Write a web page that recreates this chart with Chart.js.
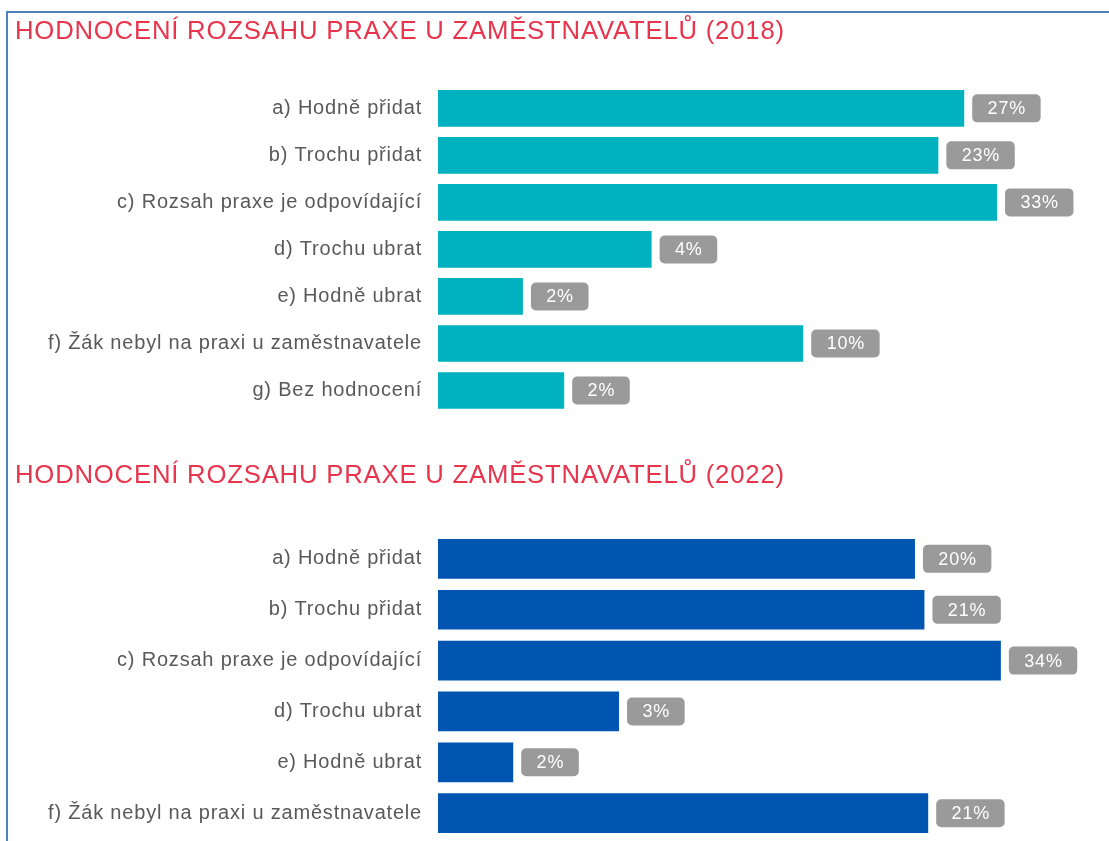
<!DOCTYPE html>
<html lang="cs">
<head>
<meta charset="utf-8">
<title>Hodnocení rozsahu praxe u zaměstnavatelů</title>
<script src="https://cdn.jsdelivr.net/npm/chart.js@4"></script>
<style>
  html, body { margin: 0; padding: 0; background: #fff; overflow: hidden; }
  body { width: 1109px; height: 841px; position: relative; }
  .frame {
    position: absolute; left: 6px; top: 11px; width: 1200px; height: 900px;
    border-top: 2px solid #4f81bd; border-left: 2px solid #4f81bd;
  }
  canvas { position: absolute; left: 0; }
  #chart2018 { top: 0; }
  #chart2022 { top: 424px; }
</style>
</head>
<body>
<div class="frame"></div>
<canvas id="chart2018" width="1109" height="424"></canvas>
<canvas id="chart2022" width="1109" height="417"></canvas>
<script>
// categories
const categories2018 = [
    "a) Hodně přidat",
    "b) Trochu přidat",
    "c) Rozsah praxe je odpovídající",
    "d) Trochu ubrat",
    "e) Hodně ubrat",
    "f) Žák nebyl na praxi u zaměstnavatele",
    "g) Bez hodnocení",
];
const categories2022 = categories2018.slice(0, 6);

const values2018 = [26.8, 22.8, 32.9, 3.8, 1.7, 9.8, 2.2];
const values2022 = [19.7, 20.9, 33.7, 3.1, 1.6, 21.4];

const titles = [
    "HODNOCENÍ ROZSAHU PRAXE U ZAMĚSTNAVATELŮ (2018)",
    "HODNOCENÍ ROZSAHU PRAXE U ZAMĚSTNAVATELŮ (2022)",
];

Chart.defaults.font.family = '"Liberation Sans", Arial, sans-serif';

// the original text is set a little wider than Liberation Sans
const wideText = {
    id: "wideText",
    beforeDraw(chart) {
        chart.ctx.letterSpacing = "0.8px";
    },
};

// grey rounded boxes with the rounded percentage next to each bar
const valueBoxes = {
    id: "valueBoxes",
    afterDatasetsDraw(chart) {
        const ctx = chart.ctx;
        const meta = chart.getDatasetMeta(0);
        const data = chart.data.datasets[0].data;
        ctx.save();
        ctx.font = '18px "Liberation Sans", Arial, sans-serif';
        ctx.textAlign = "center";
        ctx.textBaseline = "middle";
        meta.data.forEach(function (bar, i) {
            const text = Math.round(data[i]) + "%";
            const w = ctx.measureText(text).width + 30;
            const h = 28;
            const x = bar.x + 8;
            ctx.fillStyle = "#9a9a9a";
            ctx.beginPath();
            ctx.roundRect(x, bar.y - h / 2, w, h, 5);
            ctx.fill();
            ctx.fillStyle = "#ffffff";
            ctx.fillText(text, x + w / 2 + 0.4, bar.y + 1);
        });
        ctx.restore();
    },
};

function makeChart(id, title, labels, values, color, pad) {
    const ctx = document.getElementById(id).getContext("2d");
    return new Chart(ctx, {
        type: "bar",
        data: {
            labels: labels,
            datasets: [
                {
                    data: values,
                    backgroundColor: color,
                    borderWidth: 0,
                    categoryPercentage: 1,
                    barPercentage: 0.78,
                },
            ],
        },
        options: {
            indexAxis: "y",
            responsive: false,
            animation: false,
            layout: { padding: { left: 15, right: 45, top: 0, bottom: pad.bottom } },
            plugins: {
                legend: { display: false },
                tooltip: { enabled: false },
                title: {
                    display: true,
                    text: title,
                    align: "start",
                    color: "#e6354d",
                    font: { size: 25.7, weight: "normal" },
                    padding: { top: pad.titleTop, bottom: pad.titleBottom },
                },
            },
            scales: {
                x: { type: "logarithmic", min: 1, max: 50, display: false },
                y: {
                    grid: { display: false },
                    border: { display: false },
                    ticks: { color: "#595959", font: { size: 20 }, padding: 8 },
                    afterFit: function (scale) {
                        scale.width = 423;
                        // no extra room above/below for the first/last label
                        scale.paddingTop = 0;
                        scale.paddingBottom = 0;
                    },
                },
            },
        },
        plugins: [wideText, valueBoxes],
    });
}

makeChart("chart2018", titles[0], categories2018, values2018, "#00b2bf",
    { titleTop: 16, titleBottom: 38, bottom: 10 });
makeChart("chart2022", titles[1], categories2022, values2022, "#0055b0",
    { titleTop: 36, titleBottom: 42.6, bottom: 2.4 });
</script>
</body>
</html>
